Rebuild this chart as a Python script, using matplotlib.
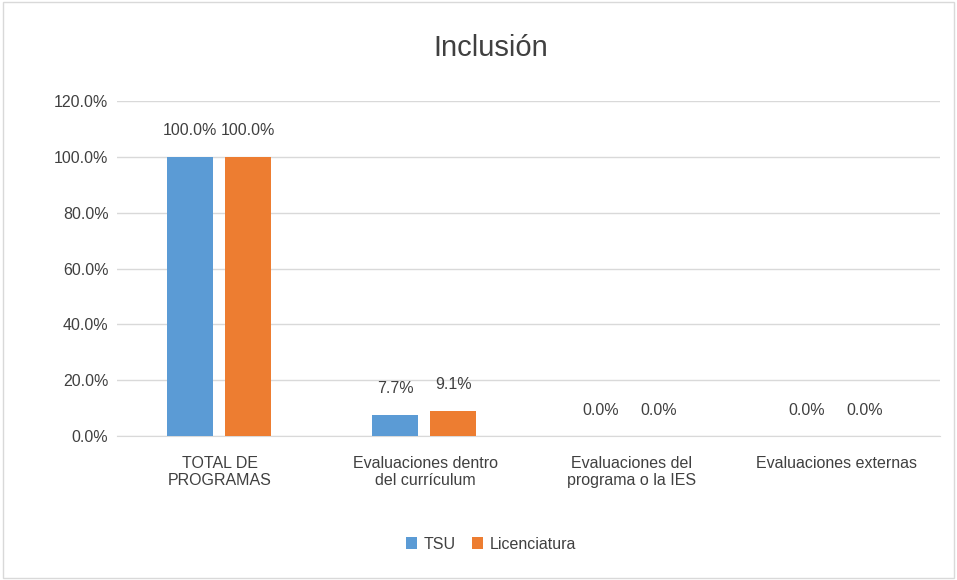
import numpy as np
import matplotlib.pyplot as plt

plt.rcParams['font.family'] = ['Liberation Sans', 'DejaVu Sans']

categorias = ['TOTAL DE\nPROGRAMAS', 'Evaluaciones dentro\ndel currículum',
              'Evaluaciones del\nprograma o la IES', 'Evaluaciones externas']
tsu = [100.0, 7.7, 0.0, 0.0]
licenciatura = [100.0, 9.1, 0.0, 0.0]

fig = plt.figure(figsize=(9.57, 5.8), dpi=100)
ax = fig.add_axes([0.122, 0.248, 0.860, 0.578])

x = np.arange(len(categorias))
w = 0.223
b1 = ax.bar(x - 0.146, tsu, w, color='#5B9BD5', label='TSU', zorder=3)
b2 = ax.bar(x + 0.136, licenciatura, w, color='#ED7D31', label='Licenciatura', zorder=3)

for bars in (b1, b2):
    for r in bars:
        ax.annotate('%.1f%%' % r.get_height(),
                    (r.get_x() + r.get_width() / 2, r.get_height()),
                    xytext=(0, 26), textcoords='offset pixels',
                    ha='center', va='center', fontsize=11.5, color='#404040')

ax.set_xlim(-0.5, 3.5)
ax.set_ylim(0, 120)
ax.set_yticks(np.arange(0, 121, 20))
ax.set_yticklabels(['%.1f%%' % v for v in np.arange(0, 121, 20)])
ax.set_xticks(x)
ax.set_xticklabels(categorias)
ax.tick_params(axis='both', length=0, labelsize=11.5, colors='#404040')
ax.tick_params(axis='x', pad=14)
ax.tick_params(axis='y', pad=6)
ax.grid(axis='y', color='#D9D9D9', linewidth=1, zorder=0)
for s in ['top', 'right', 'left']:
    ax.spines[s].set_visible(False)
ax.spines['bottom'].set_color('#D9D9D9')

fig.text(0.513, 0.918, 'Inclusión', ha='center', va='center', fontsize=21, color='#404040')

fig.legend(loc='center', bbox_to_anchor=(0.513, 0.062), ncol=2, frameon=False,
           fontsize=11.5, handlelength=0.7, handleheight=0.7, columnspacing=1.0,
           handletextpad=0.4, labelcolor='#404040')

border = plt.Rectangle((0.003, 0.003), 0.994, 0.994, transform=fig.transFigure,
                       fill=False, edgecolor='#D9D9D9', linewidth=1)
fig.patches.append(border)

fig.savefig('out.png', dpi=100)
